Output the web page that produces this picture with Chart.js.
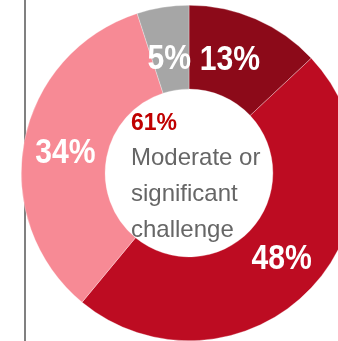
<!DOCTYPE html>
<html>
<head>
<meta charset="utf-8">
<script src="https://cdn.jsdelivr.net/npm/chart.js@4/dist/chart.umd.min.js"></script>
<style>
  html, body { margin: 0; padding: 0; background: #fff; overflow: hidden; width: 338px; height: 341px; }
  .rule { position: absolute; left: 24px; top: 0; width: 2px; height: 341px; background: #808080; }
  #ring { position: absolute; left: 21px; top: 5px; }
</style>
</head>
<body>
<div class="rule"></div>
<canvas id="ring" width="336" height="336"></canvas>
<script>
const categories = ['Significant challenge', 'Moderate challenge', 'Minor challenge', 'Not a challenge'];
const shares = [13, 48, 34, 5];
const sliceColors = ['#8C0A19', '#BD0C22', '#F78A95', '#A6A6A6'];
const centerLines = ['Moderate or', 'significant', 'challenge'];

// small nudges for the slice labels (px)
const labelNudge = [[-9, 3], [1, 0], [0, 4], [0, 11]];

const sliceLabels = {
    id: 'sliceLabels',
    afterDatasetsDraw(chart) {
        const ctx = chart.ctx;
        const arcs = chart.getDatasetMeta(0).data;
        ctx.save();
        ctx.fillStyle = '#fff';
        ctx.font = 'bold 35px "Liberation Sans", Arial, sans-serif';
        ctx.textAlign = 'center';
        ctx.textBaseline = 'middle';
        arcs.forEach((arc, i) => {
            const p = arc.getCenterPoint();
            ctx.save();
            ctx.translate(p.x + labelNudge[i][0], p.y + labelNudge[i][1]);
            ctx.scale(0.86, 1);
            ctx.fillText(shares[i] + '%', 0, 0);
            ctx.restore();
        });

        // centre text: share of the first two slices
        const cx = (chart.chartArea.left + chart.chartArea.right) / 2;
        const cy = (chart.chartArea.top + chart.chartArea.bottom) / 2;
        const x0 = cx - 168 + 110;
        ctx.textAlign = 'left';
        ctx.textBaseline = 'alphabetic';
        ctx.fillStyle = '#C00000';
        ctx.font = 'bold 23px "Liberation Sans", Arial, sans-serif';
        ctx.fillText((shares[0] + shares[1]) + '%', x0, cy - 43);
        ctx.fillStyle = '#666666';
        ctx.font = '24px "Liberation Sans", Arial, sans-serif';
        centerLines.forEach((t, i) => ctx.fillText(t, x0, cy - 8 + i * 36));
        ctx.restore();
    }
};

new Chart(document.getElementById('ring'), {
    type: 'doughnut',
    data: {
        labels: categories,
        datasets: [{
            data: shares,
            backgroundColor: sliceColors,
            borderColor: 'rgba(255,255,255,0.6)',
            borderWidth: 0.5
        }]
    },
    options: {
        responsive: false,
        devicePixelRatio: 1,
        animation: false,
        cutout: '50%',
        layout: { padding: 0 },
        plugins: { legend: { display: false }, tooltip: { enabled: false } }
    },
    plugins: [sliceLabels]
});
</script>
</body>
</html>
